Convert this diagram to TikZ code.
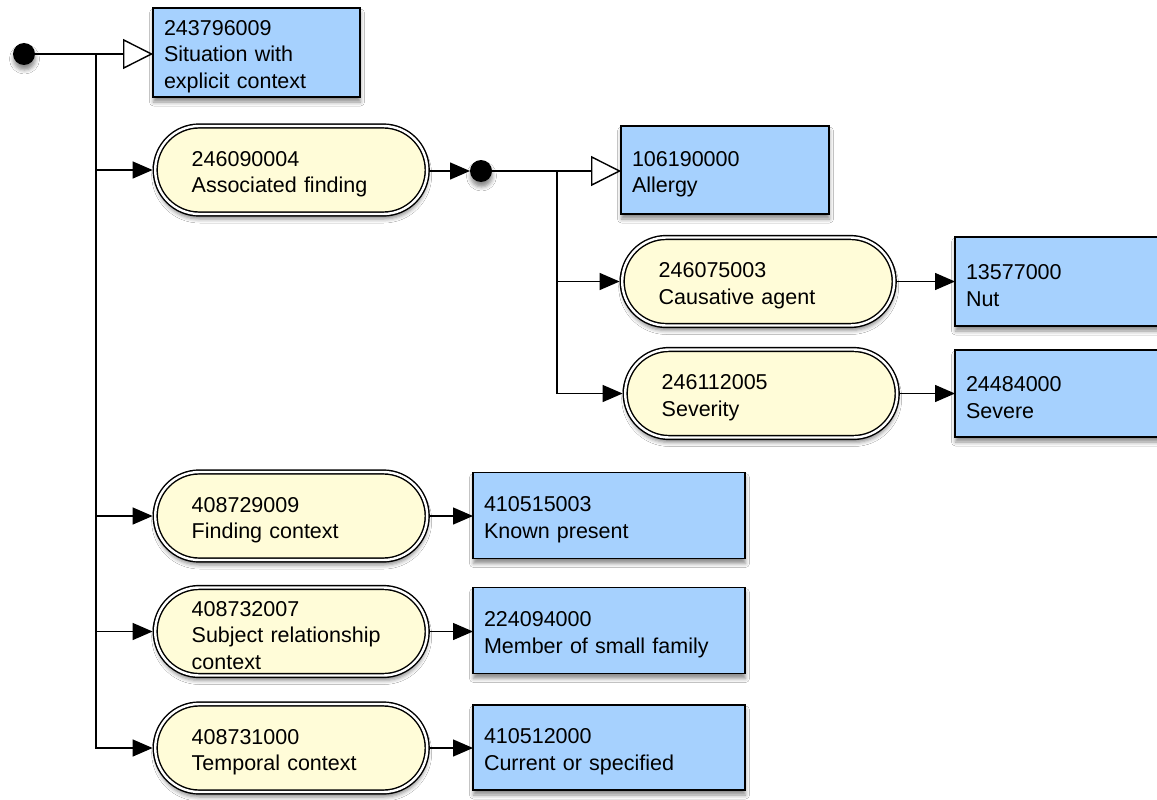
\documentclass[tikz,border=0pt]{standalone}
\usepackage{fontspec}
\setmainfont{Liberation Sans}
\usetikzlibrary{arrows.meta,shadows.blur}
\definecolor{pillfill}{HTML}{FFFCD8}
\definecolor{boxfill}{HTML}{A6D1FE}
\begin{document}
\begin{tikzpicture}[x=1pt,y=-1pt,
  font=\fontsize{21.5}{26.5}\selectfont,
  conn/.style={line width=1.4pt,draw=black},
  solidtip/.style={-{Triangle[length=20pt,width=17pt]}},
  opentip/.style={-{Triangle[length=30pt,width=30pt,fill=white,line width=1.4pt]}},
  shad/.style={blur shadow={shadow xshift=0.5pt,shadow yshift=-5pt,shadow blur radius=4pt,shadow opacity=45}},
  lower/.style={execute at begin node={\rule{0pt}{23pt}}},
  dot/.style={circle,fill=black,minimum size=22pt,inner sep=0pt,outer sep=0pt,shad},
  pill/.style={draw=black,double=white,double distance=2.4pt,line width=1.45pt,
    fill=pillfill,rounded corners=44pt,minimum height=88pt,text width=199pt,
    inner xsep=36.5pt,inner ysep=0pt,outer sep=2.6pt,align=left,anchor=west,shad,lower},
  cbox/.style={draw=black,line width=1.5pt,fill=boxfill,anchor=west,align=left,
    inner xsep=11pt,inner ysep=0pt,outer sep=0pt,minimum height=87pt,shad,lower}]
\fill[white] (0,0) rectangle (1157,800);
\useasboundingbox (0,0) rectangle (1157,800);

% nodes
\node[dot] (start) at (24,54) {};
\node[cbox,text width=185pt,minimum height=89pt] (sit) at (153,52.5) {243796009\\Situation with\\explicit context};

\node[pill] (assoc) at (152.6,170) {246090004\\Associated finding};
\node[dot] (dot2) at (481,171) {};
\node[cbox,text width=186pt,minimum height=88pt] (allergy) at (621,170) {106190000\\Allergy};

\node[pill] (caus) at (619.6,281.5) {246075003\\Causative agent};
\node[cbox,text width=240pt,minimum height=89pt] (nut) at (955,281.5) {13577000\\Nut};
\node[pill] (sev) at (622.6,393.5) {246112005\\Severity};
\node[cbox,text width=240pt,minimum height=87pt] (severe) at (955,393.5) {24484000\\Severe};

\node[pill] (find) at (152.6,516) {408729009\\Finding context};
\node[cbox,text width=250pt,minimum height=86pt] (known) at (473,515.5) {410515003\\Known present};

\node[pill] (subj) at (152.6,631.5) {408732007\\Subject relationship\\context};
\node[cbox,text width=250pt,minimum height=86pt] (member) at (473,630.5) {224094000\\Member of small family};

\node[pill] (temp) at (152.6,748) {408731000\\Temporal context};
\node[cbox,text width=250pt,minimum height=85pt] (current) at (473,747.5) {410512000\\Current or specified};

\coordinate (j1) at (96,54);
\coordinate (j2) at (557,171);

% connectors
\draw[conn,opentip] (start) -- (sit.west |- start);
\draw[conn,solidtip] (j1) |- (assoc.west);
\draw[conn,solidtip] (j1) |- (find.west);
\draw[conn,solidtip] (j1) |- (subj.west);
\draw[conn,solidtip] (j1) |- (temp.west);

\draw[conn,solidtip] (assoc.east |- dot2) -- (dot2);
\draw[conn,opentip] (dot2) -- (allergy.west |- dot2);
\draw[conn,solidtip] (j2) |- (caus.west);
\draw[conn,solidtip] (j2) |- (sev.west);

\draw[conn,solidtip] (caus) -- (nut);
\draw[conn,solidtip] (sev) -- (severe);
\draw[conn,solidtip] (find) -- (known.west |- find);
\draw[conn,solidtip] (subj) -- (member.west |- subj);
\draw[conn,solidtip] (temp) -- (current.west |- temp);
\end{tikzpicture}
\end{document}
